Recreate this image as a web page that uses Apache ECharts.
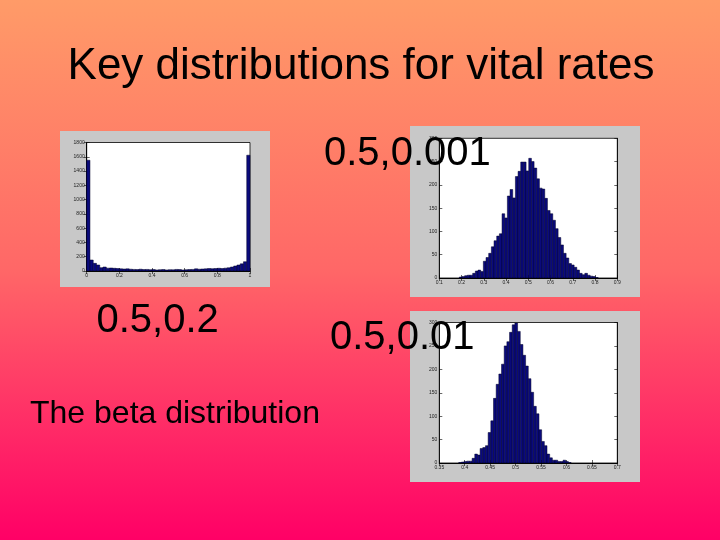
<!DOCTYPE html>
<html>
<head>
<meta charset="utf-8">
<script src="https://cdn.jsdelivr.net/npm/echarts@6/dist/echarts.min.js"></script>
<style>
html,body{margin:0;padding:0;width:720px;height:540px;overflow:hidden;}
#main{width:720px;height:540px;}
</style>
</head>
<body>
<div id="main"></div>
<script>
// ---- Data ----
// Histogram 1: beta(0.5, 0.2) — 50 bins on [0,1]
const h1Start = 0, h1Width = 0.02;
const h1Counts = [1552,154,107,84,47,56,40,42,38,35,30,28,30,25,22,20,25,20,22,18,
                  20,15,18,20,15,18,16,22,20,15,18,20,22,30,25,28,30,35,32,35,
                  38,35,40,45,56,70,84,100,130,1622];
// Histogram 2: beta(0.5, 0.001)
const h2Start = 0.19, h2Width = 0.012;
const h2Counts = [2,3,5,6,6,10,15,17,14,36,44,53,67,80,90,95,138,129,176,190,
                  172,218,229,249,249,230,257,250,236,213,193,191,171,145,138,124,106,87,71,53,
                  43,31,28,23,17,10,7,10,6,4,3,1];
// Histogram 3: beta(0.5, 0.01)
const h3Start = 0.3882, h3Width = 0.00526;
const h3Counts = [1,2,3,4,4,10,19,17,31,33,37,65,90,138,168,190,211,250,259,279,
                  295,299,281,253,230,207,180,151,121,105,71,46,37,19,11,6,6,3,3,6,3,1];

// Axis ranges / ticks
const ax1X = {min:0, max:1, interval:0.2};
const ax1Y = {min:0, max:1800, interval:200};
const ax2X = {min:0.1, max:0.9, interval:0.1};
const ax2Y = {min:0, max:300, interval:50};
const ax3X = {min:0.35, max:0.7, interval:0.05};
const ax3Y = {min:0, max:300, interval:50};

// Texts
const titleText = 'Key distributions for vital rates';
const label1 = '0.5,0.2';
const label2 = '0.5,0.001';
const label3 = '0.5,0.01';
const captionText = 'The beta distribution';

function toBins(start, width, counts){
  return counts.map((c,i)=>[start + i*width, start + (i+1)*width, c]);
}
function fmt(v){ return String(Math.round(v*1000)/1000); }

const FONT = "'Liberation Sans', Arial, sans-serif";
const grids = [
  {left:86.7, top:142.5, width:163.3, height:128.5},
  {left:439.3, top:138.3, width:178, height:139.7},
  {left:439.3, top:322.5, width:178, height:140.5}
];
const xr = [ax1X, ax2X, ax3X];
const yr = [ax1Y, ax2Y, ax3Y];
const bins = [toBins(h1Start,h1Width,h1Counts), toBins(h2Start,h2Width,h2Counts), toBins(h3Start,h3Width,h3Counts)];

const gridOpts = grids.map(g => Object.assign({show:true, backgroundColor:'#ffffff', borderColor:'#000', borderWidth:0.8, containLabel:false}, g));

const xAxes = [], yAxes = [], series = [];
grids.forEach((g, i) => {
  xAxes.push({type:'value', gridIndex:i, position:'bottom', min:xr[i].min, max:xr[i].max, interval:xr[i].interval,
    axisLine:{show:true, lineStyle:{color:'#000', width:0.8}}, axisTick:{show:true, inside:true, length:3, lineStyle:{color:'#000', width:0.6}},
    axisLabel:{show:true, fontSize:5, color:'#222', margin:2, fontFamily:FONT, formatter:fmt}, splitLine:{show:false}});
  xAxes.push({type:'value', gridIndex:i, position:'top', min:xr[i].min, max:xr[i].max, interval:xr[i].interval,
    axisLine:{show:true, lineStyle:{color:'#000', width:0.8}}, axisTick:{show:true, inside:true, length:3, lineStyle:{color:'#000', width:0.6}},
    axisLabel:{show:false}, splitLine:{show:false}});
  yAxes.push({type:'value', gridIndex:i, position:'left', min:yr[i].min, max:yr[i].max, interval:yr[i].interval,
    axisLine:{show:true, lineStyle:{color:'#000', width:0.8}}, axisTick:{show:true, inside:true, length:3, lineStyle:{color:'#000', width:0.6}},
    axisLabel:{show:true, fontSize:5, color:'#222', margin:2, fontFamily:FONT, formatter:fmt}, splitLine:{show:false}});
  yAxes.push({type:'value', gridIndex:i, position:'right', min:yr[i].min, max:yr[i].max, interval:yr[i].interval,
    axisLine:{show:true, lineStyle:{color:'#000', width:0.8}}, axisTick:{show:true, inside:true, length:3, lineStyle:{color:'#000', width:0.6}},
    axisLabel:{show:false}, splitLine:{show:false}});
  series.push({
    type:'custom', xAxisIndex:2*i, yAxisIndex:2*i, data:bins[i], clip:true, z:3,
    renderItem:function(params, api){
      const p0 = api.coord([api.value(0), api.value(2)]);
      const p1 = api.coord([api.value(1), 0]);
      return {type:'rect', shape:{x:p0[0], y:p0[1], width:p1[0]-p0[0], height:p1[1]-p0[1]},
        style:{fill:'#0A0A7C', stroke:'#000028', lineWidth:0.5}};
    }
  });
});

const chart = echarts.init(document.getElementById('main'), null, {renderer:'canvas'});
chart.setOption({
  animation:false,
  backgroundColor:'transparent',
  graphic:[
    {type:'rect', z:-100, shape:{x:0,y:0,width:720,height:540},
      style:{fill:new echarts.graphic.LinearGradient(0,0,0,1,[
        {offset:0,color:'#FF9B68'},{offset:0.5,color:'#FF6767'},{offset:1,color:'#FF0066'}])}},
    {type:'rect', z:-50, shape:{x:60,y:131,width:210,height:156}, style:{fill:'#C8C8C8'}},
    {type:'rect', z:-50, shape:{x:410,y:126,width:230,height:171}, style:{fill:'#C8C8C8'}},
    {type:'rect', z:-50, shape:{x:410,y:311,width:230,height:171}, style:{fill:'#C8C8C8'}},
    {type:'text', z:100, x:361, y:67, style:{text:titleText, font:'44px '+FONT, fill:'#000', align:'center', verticalAlign:'middle'}},
    {type:'text', z:100, x:96.5, y:321, style:{text:label1, font:'40px '+FONT, fill:'#000', align:'left', verticalAlign:'middle'}},
    {type:'text', z:100, x:324, y:153.5, style:{text:label2, font:'40px '+FONT, fill:'#000', align:'left', verticalAlign:'middle'}},
    {type:'text', z:100, x:330, y:338, style:{text:label3, font:'40px '+FONT, fill:'#000', align:'left', verticalAlign:'middle'}},
    {type:'text', z:100, x:30, y:414, style:{text:captionText, font:'32px '+FONT, fill:'#000', align:'left', verticalAlign:'middle'}}
  ],
  grid:gridOpts,
  xAxis:xAxes,
  yAxis:yAxes,
  series:series
});
</script>
</body>
</html>
